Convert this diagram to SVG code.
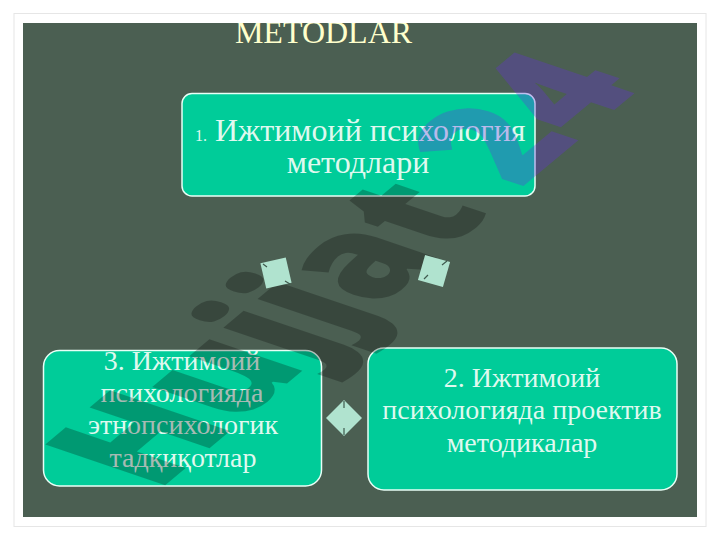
<svg xmlns="http://www.w3.org/2000/svg" width="720" height="540" viewBox="0 0 720 540">
<style>
.t{font-family:"Liberation Serif","Times New Roman",serif;fill:#dff9ef;text-anchor:middle}
.box{fill:#00cc99;stroke:#e8fff6;stroke-width:1.5}
.d{fill:#b0e3cf}
.k{stroke:#3f5a4e;stroke-width:1.2;fill:none}
.wm{font-family:"Open Sans",sans-serif;font-weight:800;font-size:100px}
</style>
<defs><clipPath id="c"><rect x="23" y="23" width="674" height="494"/></clipPath></defs>
<rect width="720" height="540" fill="#fff"/>
<rect x="14" y="13.500" width="692" height="513" fill="#fff" stroke="#e6e6e6"/>
<rect x="23" y="23" width="674" height="494" fill="#4b5f52"/>
<g clip-path="url(#c)"><text x="323.500" y="43" font-size="32" text-anchor="middle" font-family="'Liberation Serif',serif" fill="#ffffcc">METODLAR</text></g>
<g id="node1"><rect class="box" x="182" y="93.500" width="353" height="102.500" rx="10"/>
<text class="t" y="141" font-size="32" style="text-anchor:start"><tspan x="195" font-size="16">1.</tspan><tspan x="215">Ижтимоий психология</tspan></text>
<text class="t" x="358" y="173" font-size="32">методлари</text></g>
<g id="node2"><rect class="box" x="368" y="348" width="309" height="142" rx="16"/>
<text class="t" x="522" y="387" font-size="28">2. Ижтимоий</text>
<text class="t" x="522" y="419" font-size="28">психологияда проектив</text>
<text class="t" x="522" y="452" font-size="28">методикалар</text></g>
<g id="node3"><rect class="box" x="43.500" y="350.500" width="278" height="135.500" rx="16"/>
<text class="t" x="182" y="370" font-size="28">3. Ижтимоий</text>
<text class="t" x="182" y="402" font-size="28">психологияда</text>
<text class="t" x="183" y="434" font-size="28">этнопсихологик</text>
<text class="t" x="183" y="467" font-size="28">тадқиқотлар</text></g>
<g clip-path="url(#c)"><text class="wm" transform="matrix(1.06 -.885 1.68 .57 157 492)"><tspan fill="#000" fill-opacity=".25">Hujjat </tspan><tspan fill="#672ee3" fill-opacity=".31">24</tspan></text></g>
<g id="connectors">
<g id="c1"><rect class="d" x="-13" y="-13" width="26" height="26" transform="translate(276 273) rotate(-13)"/><path class="k" d="M263 264l4 3M285 281l5 3"/></g>
<g id="c2"><rect class="d" x="-13" y="-13" width="26" height="26" transform="translate(434 271) rotate(16)"/><path class="k" d="M424 279l4-4M442 265l5-4"/></g>
<g id="c3"><path class="d" d="M344 400l18 18-18 18-18-18z"/><path class="k" d="M344 401v7M344 428v7"/></g>
</g>
</svg>
